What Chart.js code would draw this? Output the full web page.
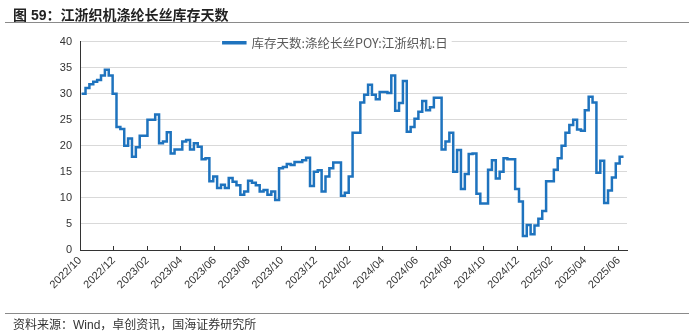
<!DOCTYPE html>
<html>
<head>
<meta charset="utf-8">
<script src="https://cdn.jsdelivr.net/npm/chart.js@4.4.1/dist/chart.umd.min.js"></script>
<style>
    html, body { margin: 0; padding: 0; background: #fff; }
    #wrap { position: relative; width: 694px; height: 335px; overflow: hidden; }
    #chart { position: absolute; left: 0; top: 0; }
    .title {
        position: absolute; left: 13px; top: 4px; z-index: 2;
        font: bold 14px "Liberation Sans", Arial, "Noto Sans CJK SC", sans-serif; color: #222;
    }
    .rule { position: absolute; left: 5px; width: 684px; height: 0; border-top: 1px solid #8a8a8a; z-index: 2; }
    .source {
        position: absolute; left: 13px; top: 315px; z-index: 2; line-height: 14px;
        font: 12px "Liberation Sans", Arial, "Noto Sans CJK SC", sans-serif; color: #333;
    }
</style>
</head>
<body>
<div id="wrap">
    <canvas id="chart" width="694" height="335"></canvas>
    <div class="title">图 59：江浙织机涤纶长丝库存天数</div>
    <div class="rule" style="top:22px"></div>
    <div class="rule" style="top:313px"></div>
    <div class="source">资料来源：Wind，卓创资讯，国海证券研究所</div>
</div>
<script>
    // weekly readings, first one a few days after 2022-10-01
    const seriesLabel = '库存天数:涤纶长丝POY:江浙织机:日';
    const firstDayOffset = 3;
    const weekValues = [
        30.0, 31.1, 31.8, 32.3, 32.6, 33.5, 34.6, 33.5, 30.0, 23.6,
        23.2, 20.0, 21.4, 17.9, 19.7, 21.9, 21.9, 25.0, 25.0, 26.0,
        20.5, 20.8, 22.6, 18.5, 19.3, 19.3, 20.8, 21.1, 19.3, 20.5,
        19.8, 17.4, 17.6, 13.2, 14.1, 11.9, 12.5, 11.9, 13.8, 13.1,
        12.4, 10.6, 11.2, 13.3, 12.9, 12.4, 11.2, 11.5, 10.6, 11.2,
        9.6, 15.7, 15.9, 16.5, 16.3, 16.9, 16.9, 17.2, 17.7, 12.3,
        15.0, 15.3, 11.2, 14.1, 15.7, 16.8, 16.8, 10.4, 11.0, 14.1,
        22.5, 22.5, 28.3, 29.8, 31.7, 29.8, 28.9, 30.3, 30.3, 30.1,
        33.5, 26.7, 28.2, 32.4, 22.7, 23.6, 25.2, 26.5, 28.6, 26.8,
        27.4, 29.2, 29.2, 19.3, 20.8, 22.5, 15.0, 19.2, 11.7, 14.6,
        18.4, 18.5, 10.8, 8.9, 8.9, 15.4, 17.2, 13.7, 15.0, 17.6,
        17.4, 17.4, 11.7, 9.3, 2.7, 4.8, 3.0, 4.7, 6.0, 7.5,
        13.2, 13.2, 15.4, 17.6, 20.0, 22.5, 24.0, 25.0, 23.1, 22.9,
        26.8, 29.4, 28.3, 14.8, 17.1, 9.0, 11.4, 13.9, 16.6, 17.9,
        17.9
    ];
    const tickLabels = [
        '2022/10', '2022/12', '2023/02', '2023/04', '2023/06', '2023/08',
        '2023/10', '2023/12', '2024/02', '2024/04', '2024/06', '2024/08',
        '2024/10', '2024/12', '2025/02', '2025/04', '2025/06'
    ];
    const yTicks = [0, 5, 10, 15, 20, 25, 30, 35, 40];

    const lineColor = '#1e73be';
    const DAYS_PER_MONTH = 30.44;

    // x axis is in months since 2022/10
    function weekPos(i) {
        return (firstDayOffset + i * 7) / DAYS_PER_MONTH;
    }

    // legend is laid out on top, then pushed down onto the top gridline
    // (and a bit right) with a white patch behind it
    const legendPatch = {
        id: 'legendPatch',
        afterLayout(chart) {
            const lg = chart.legend;
            if (!lg) return;
            const h = lg.bottom - lg.top;
            lg.top = chart.chartArea.top - 5;
            lg.bottom = lg.top + h;
            lg.left += 22;
            lg.right += 22;
        },
        beforeDatasetsDraw(chart) {
            const lg = chart.legend;
            if (!lg || !lg.legendHitBoxes.length) return;
            const hb = lg.legendHitBoxes[0];
            const ctx = chart.ctx;
            ctx.save();
            ctx.fillStyle = '#fff';
            ctx.fillRect(hb.left - 3, hb.top - 1, hb.width + 7, hb.height + 2);
            ctx.restore();
            lg.draw();
        }
    };

    Chart.defaults.font.family = '"Liberation Sans", Arial, "Noto Sans CJK SC", sans-serif';
    Chart.defaults.color = '#333';

    new Chart(document.getElementById('chart'), {
        type: 'line',
        data: {
            datasets: [{
                label: seriesLabel,
                data: weekValues.map((v, i) => ({ x: weekPos(i), y: v })),
                borderColor: lineColor,
                backgroundColor: lineColor,
                borderWidth: 2.5,
                pointRadius: 0,
                stepped: true,
                fill: false
            }]
        },
        options: {
            responsive: false,
            animation: false,
            devicePixelRatio: 1,
            layout: { padding: { top: 19, right: 67, left: 0, bottom: 0 } },
            plugins: {
                legend: {
                    position: 'top',
                    align: 'center',
                    labels: {
                        boxWidth: 22,
                        boxHeight: 1,
                        padding: 0,
                        color: '#595959',
                        font: { size: 12.5, family: '"Noto Sans CJK SC", sans-serif' }
                    }
                },
                tooltip: { enabled: false }
            },
            scales: {
                x: {
                    type: 'linear',
                    min: 0,
                    max: 32.5,
                    afterFit(scale) { scale.height = 85; },
                    ticks: {
                        stepSize: 2,
                        includeBounds: false,
                        autoSkip: false,
                        minRotation: 45,
                        maxRotation: 45,
                        padding: 8,
                        font: { size: 11 },
                        color: '#333',
                        callback: (v) => tickLabels[v / 2]
                    },
                    grid: { drawOnChartArea: false, tickLength: -4, color: '#333' },
                    border: { color: '#333', width: 1 }
                },
                y: {
                    min: 0,
                    max: 40,
                    afterFit(scale) { scale.width = 80; },
                    afterBuildTicks(scale) { scale.ticks = yTicks.map(v => ({ value: v })); },
                    ticks: { padding: 8, font: { size: 11 }, color: '#333' },
                    grid: { color: '#d9d9d9', drawTicks: false },
                    border: { color: '#333', width: 1 }
                }
            }
        },
        plugins: [legendPatch]
    });
</script>
</body>
</html>
